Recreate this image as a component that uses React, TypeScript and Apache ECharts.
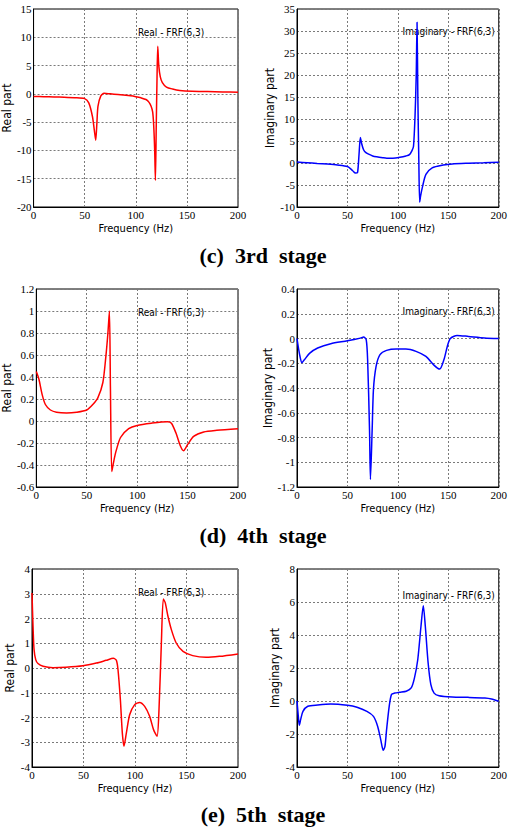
import React, { useEffect, useRef } from "react";
import * as echarts from "echarts";

// 3rd stage
const realFreq3 = [0, 10, 20, 30, 40, 50, 54, 57.6, 59.5, 60.8, 62, 63, 65.7, 69, 75, 85, 95, 100, 105, 110, 113, 115, 116.5, 117.5, 118.5, 119.2, 120, 120.8, 121.5, 122.5, 124, 126, 130, 136, 143, 155, 170, 185, 200];
const realVal3 = [-0.45, -0.5, -0.55, -0.6, -0.68, -0.85, -1.6, -4, -6.5, -8.2, -5, -2.2, -0.4, 0.1, 0.0, -0.15, -0.35, -0.5, -0.7, -1.0, -1.5, -2.2, -3.2, -5.5, -10, -15.3, -6, 3, 8.4, 5, 3, 2, 1.2, 0.85, 0.6, 0.45, 0.4, 0.35, 0.3];
const imagFreq3 = [0, 10, 20, 30, 40, 50, 55, 58, 60, 61.5, 62.8, 64, 66, 68, 71, 75, 79, 85, 89, 95, 102, 108, 111.5, 114, 115.5, 117, 118.2, 119, 119.8, 120.8, 121.6, 122.5, 124.5, 127.8, 134, 145, 154, 170, 185, 200];
const imagVal3 = [0.2, 0.05, -0.1, -0.25, -0.45, -0.8, -1.7, -2.3, -2.2, 2, 5.8, 4.5, 3.0, 2.4, 2.0, 1.6, 1.4, 1.2, 1.1, 1.1, 1.3, 1.6, 1.9, 2.8, 3.8, 10.6, 20, 32, 15, 0, -8.9, -7.5, -5.3, -2.6, -1.1, -0.45, -0.2, -0.05, 0.05, 0.15];

// 4th stage
const realFreq4 = [0, 2.6, 5.8, 9, 14, 20, 30, 40, 50, 56, 61, 66, 69, 71, 72.5, 73.5, 74.8, 76.5, 78.6, 83.5, 91.6, 100, 114, 130, 134, 138.5, 143, 146, 150, 156, 166, 179, 200];
const realVal4 = [0.45, 0.38, 0.24, 0.15, 0.10, 0.08, 0.073, 0.08, 0.10, 0.15, 0.21, 0.35, 0.59, 0.8, 1.0, 0.3, -0.46, -0.38, -0.29, -0.15, -0.07, -0.04, -0.02, -0.006, -0.02, -0.11, -0.23, -0.27, -0.215, -0.14, -0.10, -0.085, -0.07];
const imagFreq4 = [0, 2.6, 4.9, 7.5, 12.4, 20.5, 33.5, 50, 62.8, 66, 68.6, 70, 71.9, 72.8, 74.5, 75.8, 78.4, 82.3, 88.8, 98.5, 108, 118, 127.8, 136, 141.5, 145.7, 149, 152, 158.7, 170, 186, 200];
const imagVal4 = [0.0, -0.13, -0.195, -0.17, -0.12, -0.077, -0.042, -0.019, 0.003, 0.012, -0.01, -0.17, -0.74, -1.14, -0.74, -0.41, -0.225, -0.13, -0.096, -0.085, -0.085, -0.104, -0.145, -0.217, -0.247, -0.17, -0.064, 0.0, 0.025, 0.017, 0.005, 0.0];

// 5th stage
const realFreq5 = [0, 1, 2, 3.6, 5.8, 10.7, 20.4, 33, 49.5, 62.5, 72, 79, 81.9, 83.5, 85.8, 87.7, 89.3, 91.6, 94.8, 99.7, 104.5, 109.4, 114.2, 118, 121.4, 123.3, 125.6, 127.5, 129.4, 132, 135.3, 140, 146.6, 156, 169, 182, 200];
const realVal5 = [3.03, 1.68, 0.74, 0.34, 0.18, 0.07, 0.013, 0.03, 0.09, 0.2, 0.31, 0.39, 0.31, -0.07, -1.28, -2.63, -3.16, -2.63, -1.89, -1.48, -1.39, -1.55, -1.95, -2.49, -2.76, -1.68, 1.01, 2.79, 2.63, 2.09, 1.55, 1.01, 0.67, 0.5, 0.43, 0.47, 0.57];
const imagFreq5 = [0, 1.3, 2.3, 3.6, 5.9, 10.7, 20.5, 33.5, 50, 59.5, 69.3, 75.8, 80, 83, 85.5, 87.2, 88.8, 91.4, 93.7, 96.9, 101.8, 108.3, 113.2, 116.4, 119.7, 122.9, 125.2, 127.2, 130, 132.7, 135.9, 140.8, 153.8, 170, 186.3, 192.8, 200];
const imagVal5 = [0, -0.93, -1.47, -1.13, -0.63, -0.32, -0.24, -0.18, -0.26, -0.38, -0.63, -0.93, -1.54, -2.34, -2.99, -2.75, -1.74, -0.32, 0.4, 0.48, 0.53, 0.59, 0.79, 1.39, 2.5, 4.53, 5.78, 4.53, 2.3, 0.99, 0.48, 0.32, 0.24, 0.22, 0.18, 0.12, -0.02];

// axis ranges [min, max, interval]
const yRanges = [
  [-20, 15, 5],
  [-10, 35, 5],
  [-0.6, 1.2, 0.2],
  [-1.2, 0.4, 0.2],
  [-4, 4, 1],
  [-4, 8, 2],
];
const xRange = [0, 200, 50];

const captions = ["(c)  3rd  stage", "(d)  4th  stage", "(e)  5th  stage"];
const yNames = ["Real part", "Imaginary part"];
const annotations = ["Real - FRF(6,3)", "Imaginary - FRF(6,3)"];
const xName = "Frequency (Hz)";

const panels = [
  { f: realFreq3, v: realVal3 },
  { f: imagFreq3, v: imagVal3 },
  { f: realFreq4, v: realVal4 },
  { f: imagFreq4, v: imagVal4 },
  { f: realFreq5, v: realVal5 },
  { f: imagFreq5, v: imagVal5 },
];

const SANS = "'Liberation Sans Narrow', 'DejaVu Sans Condensed', 'Liberation Sans', Arial, sans-serif";
const SERIF = "'Liberation Serif', 'Times New Roman', serif";

export default function App() {
  const ref = useRef<HTMLDivElement>(null);
  useEffect(() => {
    document.body.style.margin = "0";
    if (!ref.current) return;
    const chart = echarts.init(ref.current, undefined, { renderer: "svg" });
    const colLeft = [32, 297];
    const colWidth = [206, 205];
    const rowTop = [9, 289, 569];
    const gridH = 198;

    const grids: any[] = [];
    const xAxes: any[] = [];
    const yAxes: any[] = [];
    const series: any[] = [];
    const graphics: any[] = [];

    panels.forEach((p, i) => {
      const row = Math.floor(i / 2);
      const col = i % 2;
      grids.push({
        left: colLeft[col],
        top: rowTop[row],
        width: colWidth[col],
        height: gridH,
        show: true,
        borderColor: "#000",
        borderWidth: 1,
        backgroundColor: "#fff",
        containLabel: false,
      });
      const split = { show: true, lineStyle: { color: "#7a7a7a", type: [2, 2], width: 1 } };
      xAxes.push({
        type: "value",
        gridIndex: i,
        min: xRange[0],
        max: xRange[1],
        interval: xRange[2],
        axisLine: { show: true, onZero: false, lineStyle: { color: "#000" } },
        axisTick: { show: false },
        splitLine: split,
        axisLabel: { fontFamily: SERIF, fontSize: 11, color: "#000", margin: 2 },
        name: xName,
        nameLocation: "middle",
        nameGap: 16,
        nameTextStyle: { fontFamily: SANS, fontSize: 11, color: "#000" },
      });
      const yr = yRanges[i];
      yAxes.push({
        type: "value",
        gridIndex: i,
        min: yr[0],
        max: yr[1],
        interval: yr[2],
        axisLine: { show: true, onZero: false, lineStyle: { color: "#000" } },
        axisTick: { show: false },
        splitLine: split,
        axisLabel: { fontFamily: SERIF, fontSize: 11, color: "#000", margin: 2 },
        name: yNames[col],
        nameLocation: "middle",
        nameGap: 16,
        nameTextStyle: { fontFamily: SANS, fontSize: 12, color: "#000" },
      });
      series.push({
        type: "line",
        xAxisIndex: i,
        yAxisIndex: i,
        data: p.f.map((f, k) => [f, p.v[k]]),
        showSymbol: false,
        smooth: 0.25,
        lineStyle: { color: col === 0 ? "#ff0000" : "#0000ff", width: 1.5 },
        clip: true,
      });
      const annY = [33, 32, 313, 312, 593, 596][i];
      graphics.push({
        type: "text",
        left: colLeft[col] + colWidth[col] * 0.5 + 3,
        top: annY - 6,
        style: { text: annotations[col], fontFamily: SANS, fontSize: 10, fill: "#000" },
      });
    });

    [255, 535, 814].forEach((y, r) => {
      graphics.push({
        type: "text",
        x: 263,
        y,
        style: {
          text: captions[r],
          fontFamily: SERIF,
          fontWeight: "bold",
          fontSize: 22,
          fill: "#000",
          align: "center",
          verticalAlign: "middle",
        },
      });
    });

    chart.setOption({
      animation: false,
      backgroundColor: "#fff",
      grid: grids,
      xAxis: xAxes,
      yAxis: yAxes,
      series,
      graphic: graphics,
    });
    return () => chart.dispose();
  }, []);
  return <div ref={ref} style={{ width: 510, height: 830 }} />;
}
